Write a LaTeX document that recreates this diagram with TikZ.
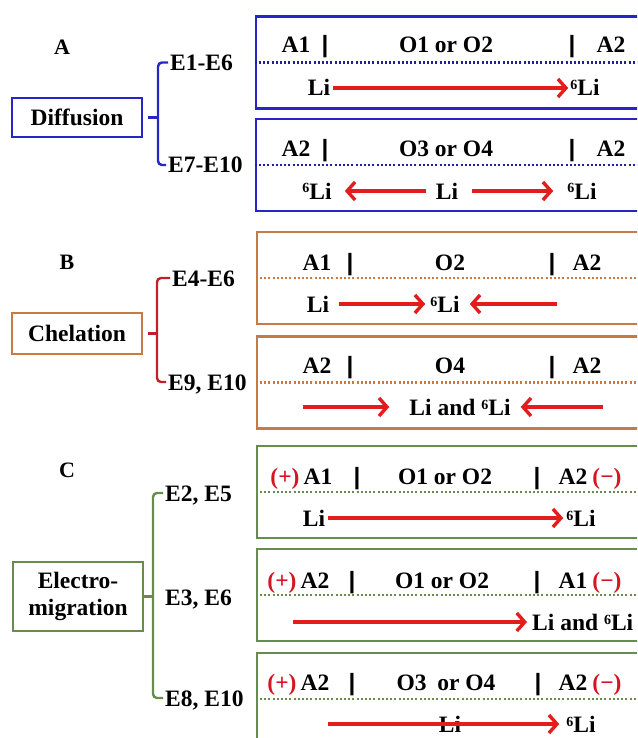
\documentclass[tikz,border=0pt]{standalone}
\usepackage{fontspec}
\setmainfont{Liberation Serif}
\usetikzlibrary{arrows.meta}
\definecolor{blueC}{RGB}{38,38,196}
\definecolor{blueD}{RGB}{30,30,170}
\definecolor{orangeC}{RGB}{200,122,68}
\definecolor{brickC}{RGB}{192,32,40}
\definecolor{greenC}{RGB}{104,140,76}
\definecolor{redA}{RGB}{228,28,28}
\definecolor{redS}{RGB}{212,22,34}
\newcommand{\six}{\raisebox{6pt}{\fontsize{14}{14}\selectfont 6}}
\newcommand{\vbar}{\scalebox{1.9}[1.05]{|}}
\begin{document}
\begin{tikzpicture}[x=1pt,y=-1pt,
  every node/.style={font=\fontsize{23.5}{27}\selectfont\bfseries, inner sep=0pt},
  txt/.style={anchor=base, text height=16pt, text depth=0pt},
  sgn/.style={txt, text=redS},
  rbox/.style={draw=#1, line width=2.5pt, minimum width=404pt, minimum height=92pt},
  lbox/.style={draw=#1, line width=2.5pt, minimum width=130pt, align=center},
  dotline/.style={draw=#1, line width=2.6pt, dash pattern=on 2pt off 2.2pt},
  brk/.style={draw=#1, line width=2.4pt, rounded corners=4pt},
  elab/.style={anchor=west, inner sep=2pt, text height=16pt, text depth=0pt},
  letter/.style={font=\fontsize{22}{26}\selectfont\bfseries},
  arr/.style={draw=redA, line width=3.4pt, -{Straight Barb[length=8pt,width=18pt]}}]
\useasboundingbox (0,0) rectangle (637,738);
\clip (0,0) rectangle (637,738);

% ---------------- A : Diffusion ----------------
\node[letter] (lA) at (62,47) {A};
\node[lbox=blueC, minimum height=39pt] (diff) at (77,117.5) {Diffusion};
\node[elab] (e1) at (168,62.5) {E1-E6};
\node[elab] (e7) at (166,165) {E7-E10};
\coordinate (brA) at (158,117.5);
\draw[brk=blueC] (e1.west) -| (brA) |- (e7.west);
\draw[brk=blueC, shorten <=5pt] (diff.east) -- (brA);

\node[rbox=blueC] (b1) at (458,62.5) {};
\draw[dotline=blueD] (b1.west) -- (b1.east);
\node[txt] (b1a) at (296,53) {A1};
\node[txt] (b1p) at (325,53) {\vbar};
\node[txt] (b1o) at (446,53) {O1 or O2};
\node[txt] (b1q) at (572,53) {\vbar};
\node[txt] (b1b) at (611,53) {A2};
\node[txt] (li1) at (319,96) {Li};
\node[txt] (sl1) at (585,96) {\six Li};
\draw[arr, shorten <=3pt, shorten >=2pt] (li1.east) -- (li1.east -| sl1.west);

\node[rbox=blueC] (b2) at (458,165) {};
\draw[dotline=blueD] (b2.west) -- (b2.east);
\node[txt] (b2a) at (296,157) {A2};
\node[txt] (b2p) at (325,157) {\vbar};
\node[txt] (b2o) at (446,157) {O3 or O4};
\node[txt] (b2q) at (572,157) {\vbar};
\node[txt] (b2b) at (611,157) {A2};
\node[txt] (sl2a) at (317,199) {\six Li};
\node[txt] (li2) at (447,199) {Li};
\node[txt] (sl2b) at (582,199) {\six Li};
\draw[arr, shorten <=10pt, shorten >=13pt] (li2.west) -- (li2.west -| sl2a.east);
\draw[arr, shorten <=14pt, shorten >=14pt] (li2.east) -- (li2.east -| sl2b.west);

% ---------------- B : Chelation ----------------
\node[letter] (lB) at (67,262) {B};
\node[lbox=orangeC, minimum height=41pt] (chel) at (77,333.5) {Chelation};
\node[elab] (e4) at (170,278) {E4-E6};
\node[elab] (e9) at (166,382) {E9, E10};
\coordinate (brB) at (157,333.5);
\draw[brk=brickC] (e4.west) -| (brB) |- (e9.west);
\draw[brk=brickC, shorten <=5pt] (chel.east) -- (brB);

\node[rbox=orangeC] (b3) at (459,278) {};
\draw[dotline=orangeC] (b3.west) -- (b3.east);
\node[txt] (b3a) at (317,270) {A1};
\node[txt] (b3p) at (350,270) {\vbar};
\node[txt] (b3o) at (450,270) {O2};
\node[txt] (b3q) at (552,270) {\vbar};
\node[txt] (b3b) at (587,270) {A2};
\node[txt] (li3) at (318,312) {Li};
\node[txt] (sl3) at (445,312) {\six Li};
\coordinate (t3) at (557,0);
\draw[arr, shorten <=10pt, shorten >=5pt] (li3.east) -- (li3.east -| sl3.west);
\draw[arr, shorten >=10pt] (t3 |- sl3.east) -- (sl3.east);

\node[rbox=orangeC] (b4) at (459,382.5) {};
\draw[dotline=orangeC] (b4.west) -- (b4.east);
\node[txt] (b4a) at (317,373) {A2};
\node[txt] (b4p) at (350,373) {\vbar};
\node[txt] (b4o) at (450,373) {O4};
\node[txt] (b4q) at (552,373) {\vbar};
\node[txt] (b4b) at (587,373) {A2};
\node[txt] (lb4) at (460,415) {Li and \six Li};
\coordinate (t4a) at (303,0);
\coordinate (t4b) at (603,0);
\draw[arr, shorten >=20pt] (t4a |- lb4.west) -- (lb4.west);
\draw[arr, shorten >=10pt] (t4b |- lb4.east) -- (lb4.east);

% ---------------- C : Electro-migration ----------------
\node[letter] (lC) at (67,470) {C};
\node[lbox=greenC, minimum height=69pt] (elec) at (78,596.5) {Electro-\\migration};
\node[elab] (e2) at (163,493) {E2, E5};
\node[elab] (e3) at (163,597) {E3, E6};
\node[elab] (e8) at (163,698) {E8, E10};
\coordinate (brC) at (153,596.5);
\draw[brk=greenC] (e2.west) -| (brC) |- (e8.west);
\draw[brk=greenC] (elec.east) -- (brC);

\node[rbox=greenC] (b5) at (459,492) {};
\draw[dotline=greenC] (b5.west) -- (b5.east);
\node[sgn] (b5s) at (285,484) {(+)};
\node[txt] (b5a) at (318,484) {A1};
\node[txt] (b5p) at (357,484) {\vbar};
\node[txt] (b5o) at (445,484) {O1 or O2};
\node[txt] (b5q) at (537,484) {\vbar};
\node[txt] (b5b) at (573,484) {A2};
\node[sgn] (b5t) at (607,484) {(−)};
\node[txt] (li5) at (314,526) {Li};
\node[txt] (sl5) at (581,526) {\six Li};
\draw[arr, shorten <=3pt, shorten >=3pt] (li5.east) -- (li5.east -| sl5.west);

\node[rbox=greenC] (b6) at (459,595) {};
\draw[dotline=greenC] (b6.west) -- (b6.east);
\node[sgn] (b6s) at (282,588) {(+)};
\node[txt] (b6a) at (315,588) {A2};
\node[txt] (b6p) at (352,588) {\vbar};
\node[txt] (b6o) at (442,588) {O1 or O2};
\node[txt] (b6q) at (537,588) {\vbar};
\node[txt] (b6b) at (573,588) {A1};
\node[sgn] (b6t) at (607,588) {(−)};
\node[txt, anchor=base west] (lb6) at (532,630) {Li and \six Li};
\coordinate (t6) at (293,0);
\draw[arr, shorten >=5pt] (t6 |- lb6.west) -- (lb6.west);

\node[rbox=greenC] (b7) at (459,699) {};
\draw[dotline=greenC] (b7.west) -- (b7.east);
\node[sgn] (b7s) at (282,690) {(+)};
\node[txt] (b7a) at (315,690) {A2};
\node[txt] (b7p) at (352,690) {\vbar};
\node[txt] (b7o) at (446,690) {O3\hspace{5pt} or O4};
\node[txt] (b7q) at (538,690) {\vbar};
\node[txt] (b7b) at (573,690) {A2};
\node[sgn] (b7t) at (607,690) {(−)};
\node[txt] (li7) at (450,732) {Li};
\node[txt] (sl7) at (581,732) {\six Li};
\coordinate (t7) at (328,0);
\draw[arr, shorten >=7pt] (t7 |- sl7.west) -- (sl7.west);
\end{tikzpicture}
\end{document}
